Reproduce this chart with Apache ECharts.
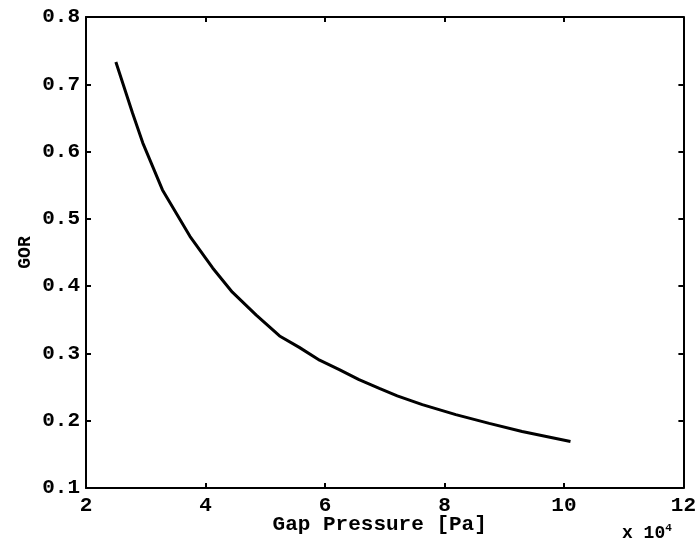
<!DOCTYPE html>
<html>
<head>
<meta charset="utf-8">
<script src="https://cdn.jsdelivr.net/npm/echarts@6/dist/echarts.min.js"></script>
<style>
  html, body { margin: 0; padding: 0; background: #fff; }
  #chart { width: 699px; height: 550px; }
</style>
</head>
<body>
<div id="chart"></div>
<script>
// gap pressure in units of 1e4 Pa
const pressure = [2.5, 2.78, 2.95, 3.28, 3.74, 4.12, 4.45, 4.85, 5.24, 5.57, 5.91, 6.24, 6.57, 6.91, 7.21, 7.63, 8.19, 8.75, 9.3, 10.11];
const gor = [0.733, 0.657, 0.613, 0.543, 0.474, 0.427, 0.391, 0.357, 0.326, 0.309, 0.290, 0.276, 0.261, 0.248, 0.237, 0.224, 0.209, 0.196, 0.184, 0.169];

const font = 'Liberation Mono';
const chart = echarts.init(document.getElementById('chart'));

const lineStyle = { color: '#000', width: 2 };
const tick = { show: true, inside: true, length: 5, lineStyle: { color: '#000', width: 2 } };

chart.setOption({
  animation: false,
  grid: { left: 86, top: 17, right: 14, bottom: 62 },
  xAxis: [
    {
      type: 'value', min: 2, max: 12, interval: 2,
      axisLine: { show: true, lineStyle },
      axisTick: tick,
      splitLine: { show: false },
      axisLabel: { color: '#000', fontFamily: font, fontWeight: 'bold', fontSize: 21, margin: 7 },
      name: 'Gap Pressure [Pa]', nameLocation: 'middle', nameGap: 26, nameMoveOverlap: false,
      nameTextStyle: { color: '#000', fontFamily: font, fontWeight: 'bold', fontSize: 21, padding: [0, 10, 0, 0] }
    },
    {
      type: 'value', position: 'top', min: 2, max: 12, interval: 2,
      axisLine: { show: true, lineStyle },
      axisTick: tick, axisLabel: { show: false }, splitLine: { show: false }
    }
  ],
  yAxis: [
    {
      type: 'value', min: 0.1, max: 0.8, interval: 0.1,
      axisLine: { show: true, lineStyle },
      axisTick: tick,
      splitLine: { show: false },
      axisLabel: { color: '#000', fontFamily: font, fontWeight: 'bold', fontSize: 21, margin: 6,
        formatter: v => v.toFixed(1) },
      name: 'GOR', nameLocation: 'middle', nameGap: 52, nameMoveOverlap: false, nameRotate: 90,
      nameTextStyle: { color: '#000', fontFamily: font, fontWeight: 'bold', fontSize: 18 }
    },
    {
      type: 'value', position: 'right', min: 0.1, max: 0.8, interval: 0.1,
      axisLine: { show: true, lineStyle },
      axisTick: tick, axisLabel: { show: false }, splitLine: { show: false }
    }
  ],
  graphic: [{
    type: 'text', left: 622, top: 523,
    style: {
      text: 'x 10{sup|4}',
      font: 'bold 18px "Liberation Mono"',
      fill: '#000',
      rich: { sup: { fontSize: 11, fontWeight: 'bold', fontFamily: font, verticalAlign: 'top', padding: [0, 0, 9, 0] } }
    }
  }],
  series: [{
    type: 'line',
    data: pressure.map((p, i) => [p, gor[i]]),
    showSymbol: false,
    lineStyle: { color: '#000', width: 3 },
    smooth: false
  }]
});
</script>
</body>
</html>
